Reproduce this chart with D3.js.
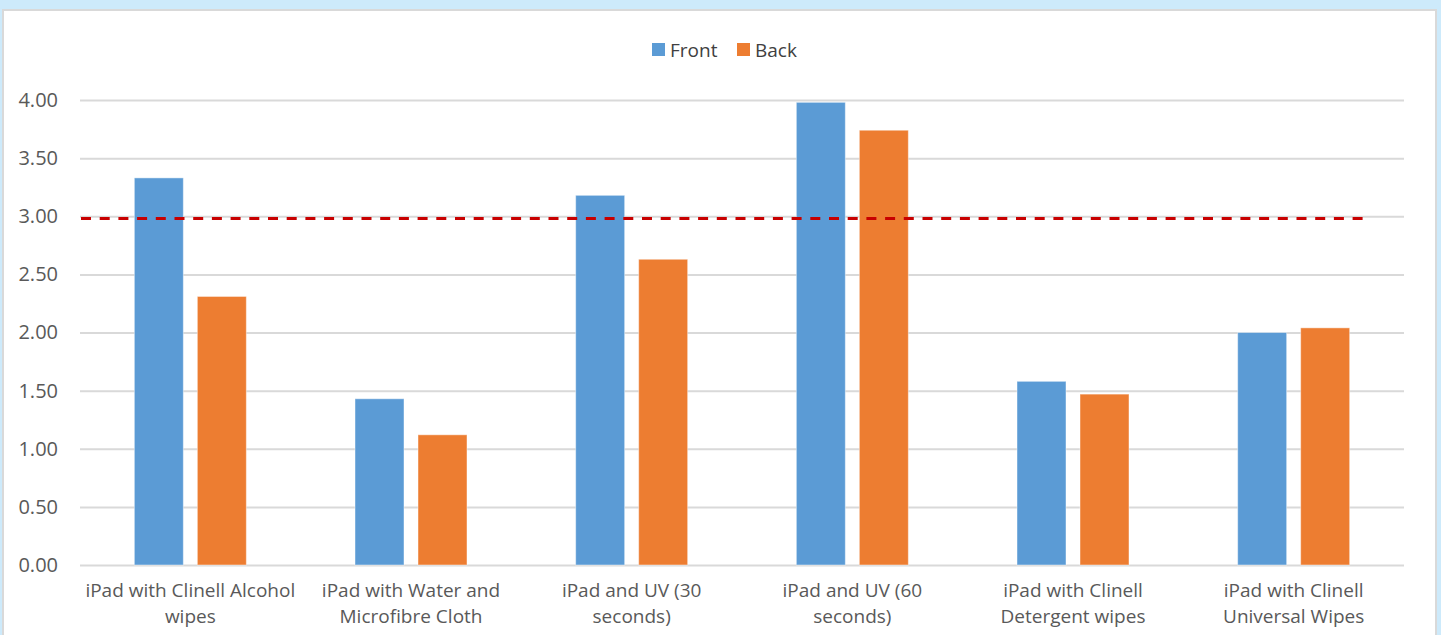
<!DOCTYPE html>
<html>
<head>
<meta charset="utf-8">
<script src="https://cdn.jsdelivr.net/npm/d3@7"></script>
<style>
html,body{margin:0;padding:0;background:#cdeafb;}
svg{display:block;}
</style>
</head>
<body>
<svg id="chart" width="1441" height="635"></svg>
<script>
const categories = [
  ["iPad with Clinell Alcohol", "wipes"],
  ["iPad with Water and", "Microfibre Cloth"],
  ["iPad and UV (30", "seconds)"],
  ["iPad and UV (60", "seconds)"],
  ["iPad with Clinell", "Detergent wipes"],
  ["iPad with Clinell", "Universal Wipes"]
];
const seriesNames = ["Front", "Back"];
const frontValues = [3.33, 1.43, 3.18, 3.98, 1.58, 2.00];
const backValues  = [2.31, 1.12, 2.63, 3.74, 1.47, 2.04];
const thresholdValue = 2.98;
const yTicks = [0, 0.5, 1.0, 1.5, 2.0, 2.5, 3.0, 3.5, 4.0];
const colors = ["#5B9BD5", "#ED7D31"];

(function () {
const svg = d3.select("#chart");
const font = "'Open Sans', sans-serif";

// panel
svg.append("rect").attr("x", 3).attr("y", 10).attr("width", 1433).attr("height", 640)
  .attr("fill", "#ffffff").attr("stroke", "#d9d9d9").attr("stroke-width", 2);

const pLeft = 80, pRight = 1404, pTop = 100, pBottom = 565;
const y = d3.scaleLinear().domain([0, 4]).range([pBottom, pTop]);
const catIdx = categories.map((d, i) => i);
const x0 = d3.scaleBand().domain(catIdx).range([pLeft, pRight]).paddingInner(0).paddingOuter(0);
const x1 = d3.scaleBand().domain(seriesNames).range([0, x0.bandwidth()])
  .paddingInner(14 / 63).paddingOuter(0.8625);

// gridlines + y axis
const yAxis = d3.axisLeft(y).tickValues(yTicks).tickFormat(d3.format(".2f"))
  .tickSize(-(pRight - pLeft)).tickPadding(22);
const gy = svg.append("g").attr("transform", `translate(${pLeft},0)`).call(yAxis);
gy.select(".domain").remove();
gy.selectAll(".tick line").attr("stroke", "#d9d9d9").attr("stroke-width", 2);
gy.selectAll(".tick text").attr("fill", "#595959").style("font-family", font).style("font-size", "20px");

// bars
const data = catIdx.map(i => ({i, vals: [
  {s: "Front", v: frontValues[i], c: colors[0]},
  {s: "Back", v: backValues[i], c: colors[1]}
]}));
const groups = svg.append("g").selectAll("g").data(data).join("g")
  .attr("transform", d => `translate(${x0(d.i)},0)`);
groups.selectAll("rect").data(d => d.vals).join("rect")
  .attr("x", d => x1(d.s)).attr("width", x1.bandwidth())
  .attr("y", d => y(d.v)).attr("height", d => y(0) - y(d.v))
  .attr("fill", d => d.c)
  .attr("stroke", "rgba(255,255,255,0.45)").attr("stroke-width", 1);

// threshold dashed line
svg.append("line")
  .attr("x1", pLeft + 1).attr("x2", 1367)
  .attr("y1", y(thresholdValue)).attr("y2", y(thresholdValue))
  .attr("stroke", "#C80000").attr("stroke-width", 3)
  .attr("stroke-dasharray", "10,8.7");

// x labels (one text element per line)
const xl = svg.append("g");
categories.forEach((lines, i) => {
  const cx = x0(i) + x0.bandwidth() / 2;
  lines.forEach((ln, k) => {
    xl.append("text").attr("text-anchor", "middle")
      .attr("x", cx).attr("y", 597 + k * 26).text(ln)
      .attr("fill", "#595959").style("font-family", font).style("font-size", "19px");
  });
});

// legend
const legend = svg.append("g");
const legendItems = [{n: "Front", x: 652, c: colors[0]}, {n: "Back", x: 737, c: colors[1]}];
legendItems.forEach(it => {
  legend.append("rect").attr("x", it.x).attr("y", 43).attr("width", 13).attr("height", 13).attr("fill", it.c);
  legend.append("text").attr("x", it.x + 18).attr("y", 57).text(it.n)
    .attr("fill", "#404040").style("font-family", font).style("font-size", "19px");
});
})();
</script>
</body>
</html>
